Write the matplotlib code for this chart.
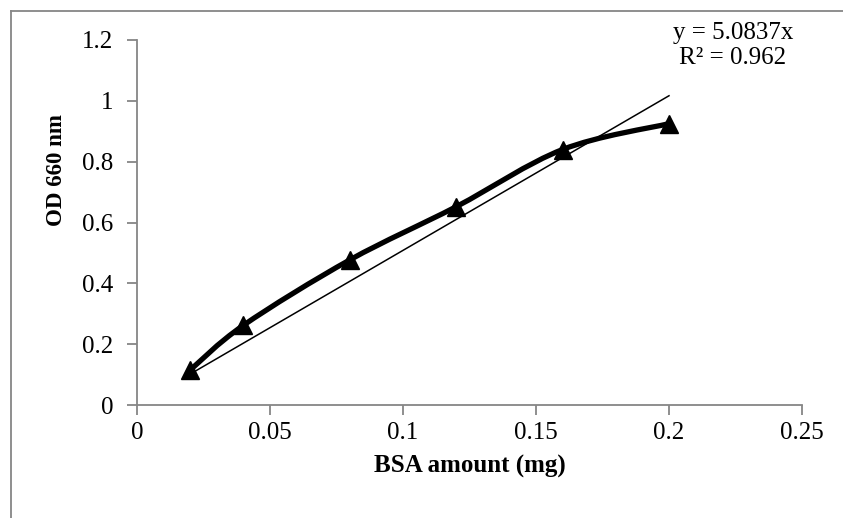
import matplotlib
matplotlib.use("Agg")
import matplotlib.pyplot as plt
import numpy as np
from matplotlib.path import Path
from matplotlib.patches import PathPatch
from matplotlib.lines import Line2D

# Data
bsa_mg = [0.02, 0.04, 0.08, 0.12, 0.16, 0.20]
od_660 = [0.115, 0.262, 0.477, 0.652, 0.840, 0.925]
slope = 5.0837
eq_line1 = "y = 5.0837x"
eq_line2 = "R² = 0.962"
x_ticks = [0, 0.05, 0.1, 0.15, 0.2, 0.25]
x_tick_labels = ["0", "0.05", "0.1", "0.15", "0.2", "0.25"]
y_ticks = [0, 0.2, 0.4, 0.6, 0.8, 1.0, 1.2]
y_tick_labels = ["0", "0.2", "0.4", "0.6", "0.8", "1", "1.2"]

plt.rcParams['font.family'] = ['Liberation Serif', 'DejaVu Serif']

W, H = 843, 518
fig = plt.figure(figsize=(W / 100, H / 100), dpi=100)
ax = fig.add_axes([137 / W, (H - 405) / H, (802 - 137) / W, (405 - 40) / H])

# outer chart border (cut off at right and bottom)
border_col = '#868686'
fig.add_artist(Line2D([10.5 / W, 10.5 / W], [0, (H - 10.5) / H], transform=fig.transFigure,
                      color=border_col, lw=1.3))
fig.add_artist(Line2D([10.5 / W, 1.0], [(H - 10.5) / H, (H - 10.5) / H], transform=fig.transFigure,
                      color=border_col, lw=1.3))

# smoothed curve (Excel-style Catmull-Rom Bezier)
pts = np.column_stack([bsa_mg, od_660])
n = len(pts)
verts = [tuple(pts[0])]
codes = [Path.MOVETO]
for i in range(n - 1):
    p0 = pts[i - 1] if i > 0 else pts[i]
    p1 = pts[i]
    p2 = pts[i + 1]
    p3 = pts[i + 2] if i + 2 < n else pts[i + 1]
    c1 = p1 + (p2 - p0) / 6.0
    c2 = p2 - (p3 - p1) / 6.0
    verts += [tuple(c1), tuple(c2), tuple(p2)]
    codes += [Path.CURVE4] * 3
ax.add_patch(PathPatch(Path(verts, codes), facecolor='none', edgecolor='black',
                       lw=3.8, capstyle='round', joinstyle='round', zorder=3))
ax.plot(bsa_mg, od_660, linestyle='none', marker='^', markersize=13, color='black', zorder=4)

# linear trendline through origin
tx = np.array([bsa_mg[0], bsa_mg[-1]])
ax.plot(tx, slope * tx, color='black', lw=1.1, zorder=2)

ax.set_xlim(0, 0.25)
ax.set_ylim(0, 1.2)
ax.set_xticks(x_ticks)
ax.set_xticklabels(x_tick_labels)
ax.set_yticks(y_ticks)
ax.set_yticklabels(y_tick_labels)

for s in ['top', 'right']:
    ax.spines[s].set_visible(False)
for s in ['left', 'bottom']:
    ax.spines[s].set_color(border_col)
    ax.spines[s].set_linewidth(1.3)
ax.tick_params(axis='both', which='major', direction='out', length=7, width=1.3,
               color=border_col, labelsize=18, labelcolor='black')
ax.tick_params(axis='y', pad=10)
ax.tick_params(axis='x', pad=5)

ax.set_xlabel("BSA amount (mg)", fontsize=18, fontweight='bold', labelpad=8)
ax.set_ylabel("OD 660 nm", fontsize=16.5, fontweight='bold')
ax.yaxis.set_label_coords(57 / W, (H - 170) / H, transform=fig.transFigure)
ax.yaxis.label.set_va('center')

fig.text(733 / W, (H - 33) / H, eq_line1, ha='center', va='center', fontsize=18)
fig.text(733 / W, (H - 58) / H, eq_line2, ha='center', va='center', fontsize=18)

fig.savefig("out.png", dpi=100)
